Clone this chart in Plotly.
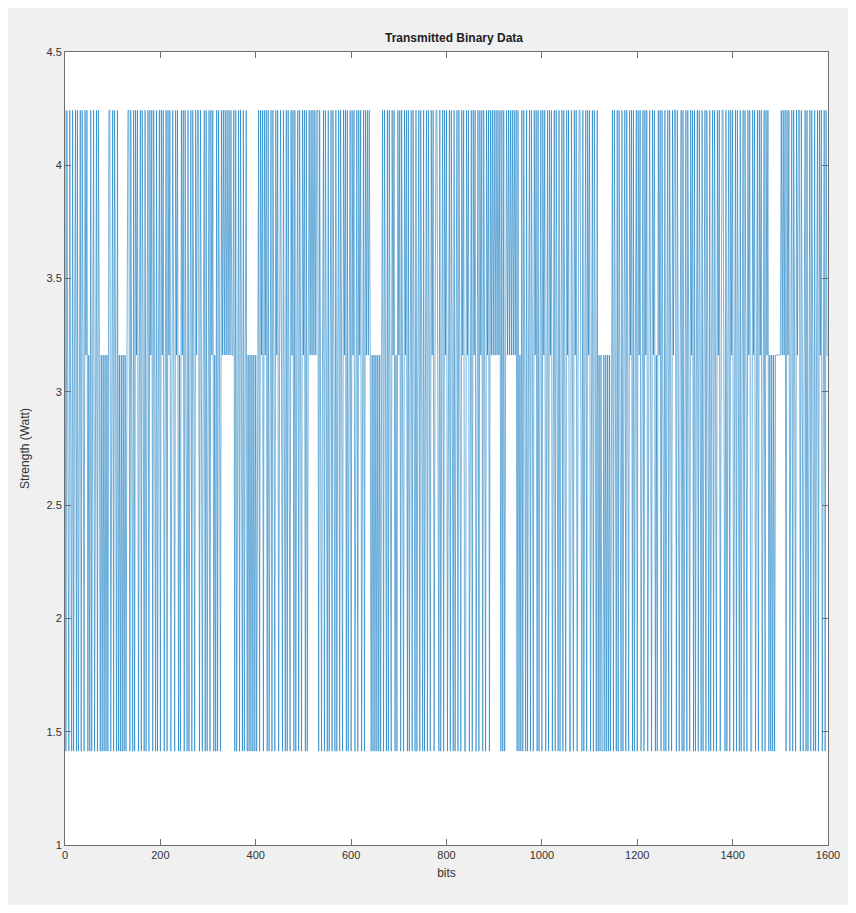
import plotly.graph_objects as go

# Amplitude levels (Watt) of the transmitted signal
levels = [1.4142, 3.1623, 4.2426]

# Level sequence (0 -> 1.414, 1 -> 3.162, 2 -> 4.243), one value every 2 bits
level_codes = (
    "2021021020" "1202012021" "0212010201" "2012021010" "1010102201"
    "2021020101" "0101012202" "1020212012" "0210201202" "1202102012"
    "0212012021" "2012102120" "1021202102" "0120210212" "2021012020"
    "1202120102" "0210212121" "2121211202" "0120210201" "2010101010"
    "1012021202" "1202012021" "0212012102" "1020210212" "0201202102"
    "1202012121" "2121220210" "1202102012" "0210201202" "1021202012"
    "0212012021" "2012021212" "1010101010" "1012021020" "2102120102"
    "1202102120" "2012021020" "1202102012" "0210212012" "2102012021"
    "2012021020" "1202102120" "0212012021" "2012021202" "1021202121"
    "2121212020" "2012121212" "1212020102" "0210201202" "1021202012"
    "0212012021" "2012021020" "1202102120" "0210212012" "2102012021"
    "2012021020" "1010010101" "0101202102" "0210201202" "1021202012"
    "0212012021" "2012102120" "1021202102" "0120210212" "2021012020"
    "1202102120" "2012021020" "1202102012" "0210212012" "2102012021"
    "2012021020" "1202102120" "0212012021" "2012021201" "0101011111"
    "1212120212" "0120210212" "2021012020" "1202102012" "0212012021"
)
bits_per_value = 2

x_ticks = [0, 200, 400, 600, 800, 1000, 1200, 1400, 1600]
y_ticks = [1, 1.5, 2, 2.5, 3, 3.5, 4, 4.5]
y_tick_labels = ["1", "1.5", "2", "2.5", "3", "3.5", "4", "4.5"]

values = [levels[int(c)] for c in level_codes]
x = [i * bits_per_value for i in range(len(values))] + [len(values) * bits_per_value]
y = values + [values[-1]]

fig = go.Figure()
fig.add_trace(go.Scatter(x=x, y=y, mode="lines", line=dict(color="#0072BD", width=0.55),
                         showlegend=False, hoverinfo="skip"))

axis_common = dict(showline=True, linecolor="#6e6e6e", linewidth=1, mirror="ticks", ticks="inside",
                   ticklen=6, tickcolor="#6e6e6e", showgrid=False, zeroline=False,
                   tickfont=dict(family="Liberation Sans Narrow, Liberation Sans, Arial", size=11, color="#333333"))

fig.update_xaxes(range=[0, 1600], tickvals=x_ticks, ticktext=[str(v) for v in x_ticks],
                 title=dict(text="bits", font=dict(family="Liberation Sans, Arial", size=12, color="#333333"), standoff=8),
                 **axis_common)
fig.update_yaxes(range=[1, 4.5], tickvals=y_ticks, ticktext=y_tick_labels,
                 title=dict(text="Strength (Watt)", font=dict(family="Liberation Sans, Arial", size=12, color="#333333"), standoff=14),
                 **axis_common)

# plot area in figure pixels (page has an 8px body margin)
W, H = 848, 905
L, R, T, B = 57, 28, 44, 68
pw, ph = W - L - R, H - T - B

def px(xp):
    return (xp - L) / pw

def py(yp):
    return (H - B - yp) / ph

shapes = [
    # thin white border right and bottom of the grey figure window
    dict(type="rect", xref="paper", yref="paper", x0=px(844), x1=px(860), y0=py(-10), y1=py(920),
         fillcolor="white", line=dict(width=0), layer="above"),
    dict(type="rect", xref="paper", yref="paper", x0=px(-10), x1=px(860), y0=py(920), y1=py(897),
         fillcolor="white", line=dict(width=0), layer="above"),
]

fig.update_layout(
    width=W, height=H,
    margin=dict(l=L, r=R, t=T, b=B),
    paper_bgcolor="#f0f0f0", plot_bgcolor="white",
    title=dict(text="<b>Transmitted Binary Data</b>", x=px(446), xanchor="center", xref="paper",
               y=1 - 30 / H, yanchor="middle",
               font=dict(family="Liberation Sans Narrow, Liberation Sans, Arial", size=12, color="#222222")),
    shapes=shapes,
)

fig.write_html("out.html")
